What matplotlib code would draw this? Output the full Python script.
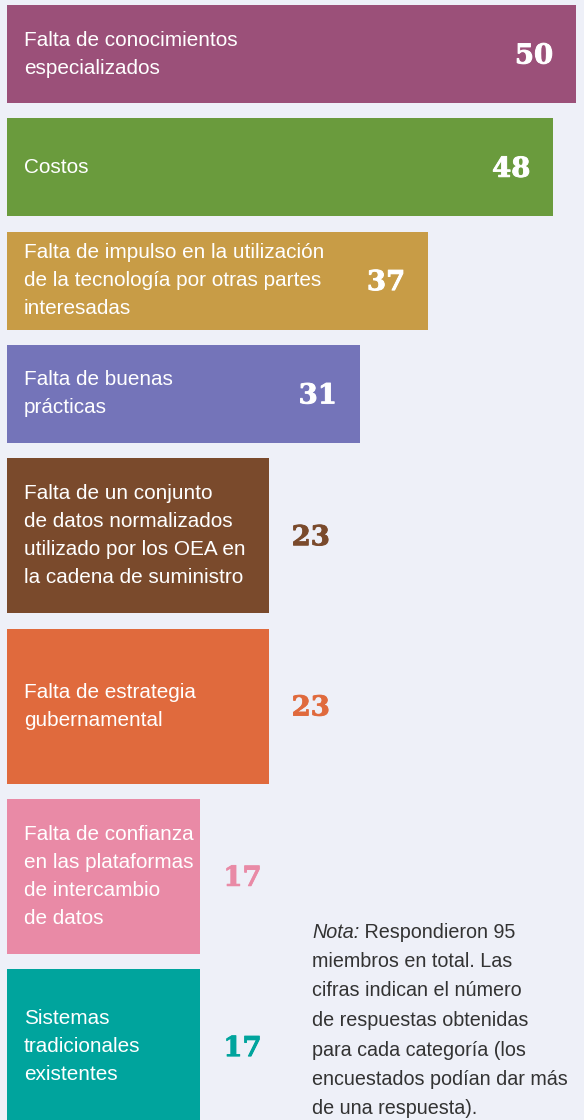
import matplotlib
matplotlib.use("Agg")
import matplotlib.pyplot as plt
import matplotlib.patheffects as pe

# survey answers, top to bottom
labels = [
    "Falta de conocimientos\nespecializados",
    "Costos",
    "Falta de impulso en la utilización\nde la tecnología por otras partes\ninteresadas",
    "Falta de buenas\nprácticas",
    "Falta de un conjunto\nde datos normalizados\nutilizado por los OEA en\nla cadena de suministro",
    "Falta de estrategia\ngubernamental",
    "Falta de confianza\nen las plataformas\nde intercambio\nde datos",
    "Sistemas\ntradicionales\nexistentes",
]
values = [50, 48, 37, 31, 23, 23, 17, 17]
colors = ["#9b5079", "#6a9b3d", "#c89c46", "#7474b9",
          "#7a4a2c", "#e06a3d", "#e98aa6", "#00a49d"]

note_rest = ("miembros en total. Las\ncifras indican el número\n"
             "de respuestas obtenidas\npara cada categoría (los\n"
             "encuestados podían dar más\nde una respuesta).")

bg = "#eef0f8"
W, H = 584, 1120
px = 11.38          # pixels per unit
x0 = 7              # left edge of bars in px

fig = plt.figure(figsize=(W / 72, H / 72), dpi=72, facecolor=bg)
ax = fig.add_axes([0, 0, 1, 1])
ax.set_facecolor(bg)
ax.set_xlim(-x0 / px, (W - x0) / px)
ax.set_ylim(H, 0)
ax.axis("off")

font = "Liberation Sans"

# bar geometry (px): short bars for 1-3 line labels, tall ones for the rest
heights = [98, 98, 98, 98, 155, 155, 155, 155]
gap = 15.3
top = 5
for lab, v, c, h in zip(labels, values, colors, heights):
    yc = top + h / 2
    ax.barh(yc, v, height=h, left=0, color=c, edgecolor="none")
    ax.text((24 - x0) / px, yc, lab, color="white", fontsize=20.7,
            family=font, ha="left", va="center", linespacing=1.6)
    inside = v >= 30
    off = -42 if inside else 42
    tc = "white" if inside else c
    ax.annotate(str(v), xy=(v, yc + 2), xytext=(off, 0), textcoords="offset points",
                ha="center", va="center", fontsize=27.5, fontweight="bold",
                family="DejaVu Serif", color=tc,
                path_effects=[pe.withStroke(linewidth=0.9, foreground=tc)])
    top += h + gap

# note
nx = (312 - x0) / px
t = ax.text(nx, 932, "Nota:", style="italic", color="#333333", fontsize=19.8,
            family=font, ha="left", va="center")
ax.annotate(" Respondieron 95", xy=(1, 0.5), xycoords=t, ha="left", va="center",
            color="#333333", fontsize=19.8, family=font)
ax.text(nx, 961 - 9, note_rest, color="#333333", fontsize=19.8, family=font,
        ha="left", va="top", linespacing=1.7)

fig.savefig("out.png", dpi=72, facecolor=bg)
